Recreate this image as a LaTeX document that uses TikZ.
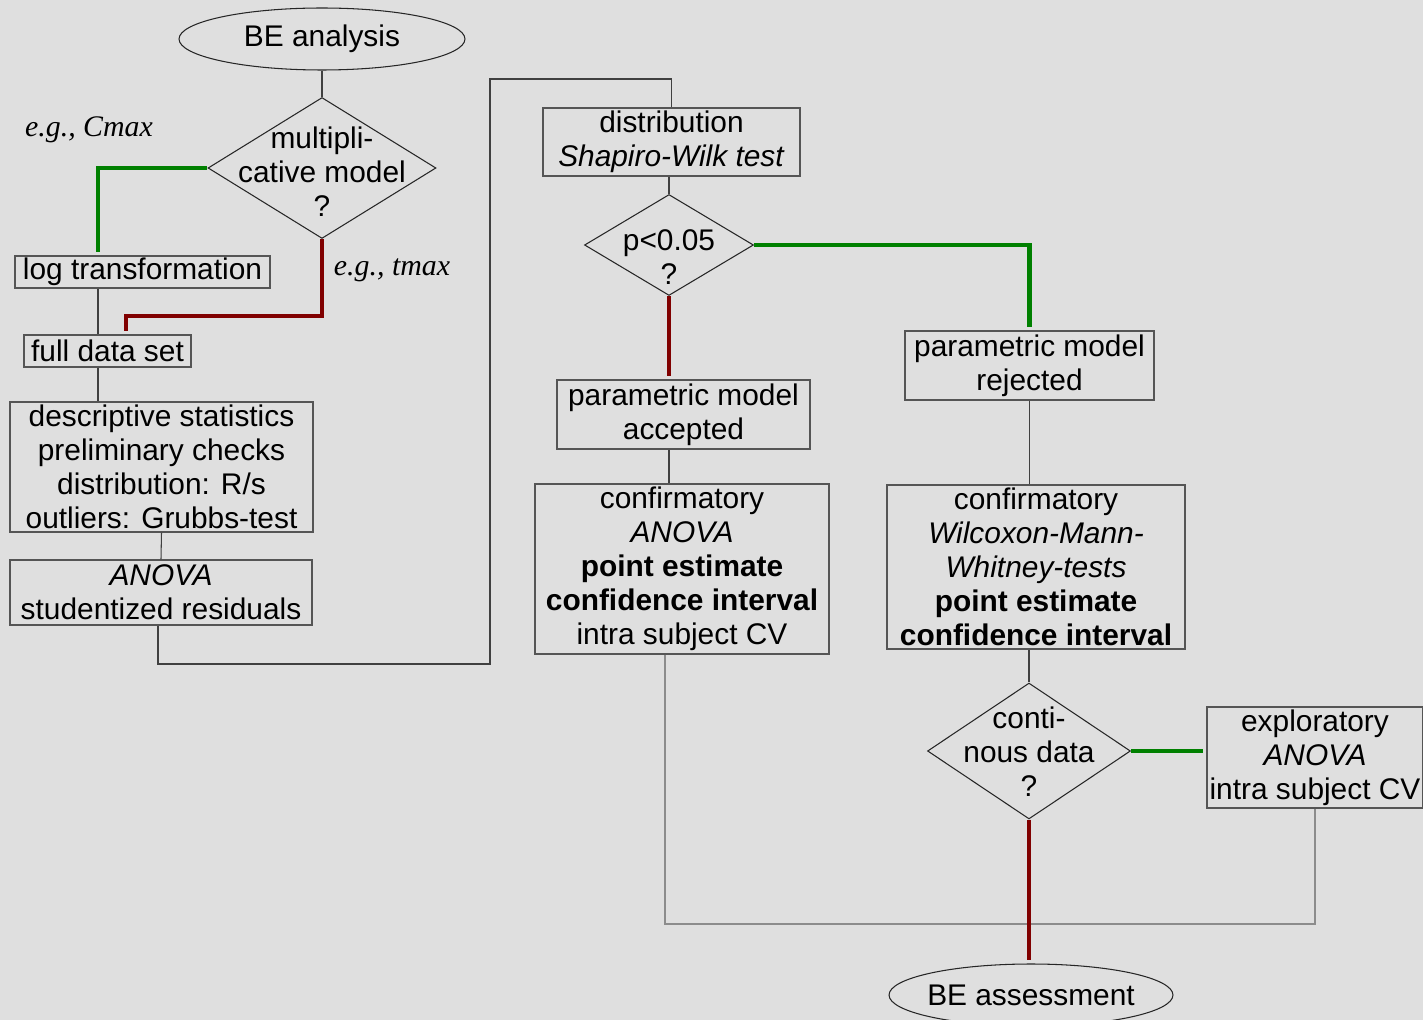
\documentclass[tikz,border=0pt]{standalone}
\usepackage{fontspec}
\setmainfont{Liberation Sans}
\newfontfamily\notefont{Liberation Serif}
\usetikzlibrary{shapes.geometric}
\definecolor{paper}{RGB}{223,223,223}
\definecolor{yesgreen}{RGB}{0,128,0}
\definecolor{nored}{RGB}{128,0,0}
\definecolor{frame}{RGB}{85,85,85}
\newcommand\boxfont{\fontsize{17}{19.4}\selectfont}
% text inside a diamond: no size of its own, so the diamond keeps its given size
\newcommand\dlines[2]{\smash{\makebox[0pt]{\raisebox{#1}{\begin{tabular}{@{}c@{}}#2\end{tabular}}}}}
\tikzset{
  box/.style={draw=frame, line width=0.8pt, inner sep=0pt, align=center, font=\boxfont},
  decision/.style={diamond, draw=black!85, line width=0.6pt, inner sep=0pt, font=\boxfont},
  terminal/.style={ellipse, draw=black!85, line width=0.6pt, inner sep=0pt, font=\boxfont},
  conn/.style={draw=black!75, line width=0.6pt},
  yes/.style={draw=yesgreen, line width=2.6pt, shorten >=2pt},
  no/.style={draw=nored, line width=2.6pt, shorten >=2pt},
  note/.style={font=\notefont\boxfont\itshape, inner sep=0pt}
}
\begin{document}
\begin{tikzpicture}[x=0.02cm,y=-0.02cm]
  \clip (0,0) rectangle (1423,1020);
  \fill[paper] (0,0) rectangle (1423,1020);

  % left column
  \node[terminal, minimum width=5.72cm, minimum height=1.24cm] (start) at (322,39) {\makebox[0pt]{BE analysis}};
  \node[decision, minimum width=4.56cm, minimum height=2.82cm] (mult) at (322,168)
    {\dlines{-8.5pt}{multipli-\\cative model\\?}};
  \node[note] (cmax) at (89,130) {e.g., Cmax};
  \node[note] (tmax) at (392,270) {e.g., tmax};
  \node[box, minimum width=5.1cm, minimum height=0.64cm] (log) at (142.5,272) {log transformation};
  \node[box, minimum width=3.34cm, minimum height=0.64cm] (full) at (107.5,351) {full data set};
  \node[box, minimum width=6.06cm, minimum height=2.6cm] (desc) at (161.5,467)
    {descriptive statistics\\preliminary checks\\distribution: R/s\\outliers: Grubbs-test};
  \node[box, minimum width=6.04cm, minimum height=1.3cm] (resid) at (161,592.5)
    {\textit{ANOVA}\\studentized residuals};

  % middle column
  \node[box, minimum width=5.14cm, minimum height=1.36cm] (dist) at (671.5,142)
    {distribution\\\textit{Shapiro-Wilk test}};
  \node[decision, minimum width=3.38cm, minimum height=2.02cm] (pdec) at (669,245)
    {\dlines{-13pt}{p<0.05\\?}};
  \node[box, minimum width=5.06cm, minimum height=1.38cm] (accepted) at (683.5,414.5)
    {parametric model\\accepted};
  \node[box, minimum width=5.88cm, minimum height=3.4cm] (confpar) at (682,569)
    {confirmatory\\\textit{ANOVA}\\\textbf{point estimate}\\\textbf{confidence interval}\\intra subject CV};

  % right column
  \node[box, minimum width=4.98cm, minimum height=1.38cm] (rejected) at (1029.5,365.5)
    {parametric model\\rejected};
  \node[box, minimum width=5.96cm, minimum height=3.28cm] (confnp) at (1036,567)
    {confirmatory\\\textit{Wilcoxon-Mann-}\\\textit{Whitney-tests}\\\textbf{point estimate}\\\textbf{confidence interval}};
  \node[decision, minimum width=4.06cm, minimum height=2.72cm] (cdec) at (1029,751)
    {\dlines{-7pt}{conti-\\nous data\\?}};
  \node[box, minimum width=4.32cm, minimum height=2.02cm] (explo) at (1315,757.5)
    {exploratory\\\textit{ANOVA}\\intra subject CV};
  \node[terminal, minimum width=5.68cm, minimum height=1.24cm] (finish) at (1031,995) {\makebox[0pt]{BE assessment}};

  % turning points
  \coordinate (leftrail) at (98,0);
  \coordinate (redturn) at (126,316);
  \coordinate (jogdown) at (490,664);
  \coordinate (jogup) at (490,79);
  \coordinate (mergerow) at (1000,924);

  % connectors
  \draw[conn] (start.south) -- (mult.north);
  \draw[yes] (mult.west) -| (log.north -| leftrail);
  \draw[no] (mult.south) |- (redturn) -- (full.north -| redturn);
  \draw[conn] (log.south -| leftrail) -- (full.north -| leftrail);
  \draw[conn] (full.south -| leftrail) -- (desc.north -| leftrail);
  \draw[conn] (desc.south) -- (resid.north);
  \draw[conn] ([xshift=-0.06cm]resid.south) |- (jogdown) -- (jogup) -| (dist.north);
  \draw[conn] (dist.south -| pdec) -- (pdec.north);
  \draw[yes] (pdec.east) -| (rejected.north);
  \draw[no] (pdec.south) -- (accepted.north -| pdec);
  \draw[conn] (accepted.south -| pdec) -- (confpar.north -| pdec);
  \draw[conn] (rejected.south) -- (confnp.north -| rejected.south);
  \draw[conn] (confnp.south -| cdec) -- (cdec.north);
  \draw[yes] (cdec.east) -- (explo.west |- cdec.east);
  \draw[conn, draw=black!45] ([xshift=-0.08cm]confpar.south -| pdec) |- (mergerow) -| (explo.south);
  \draw[no] (cdec.south) -- (finish.north -| cdec);
\end{tikzpicture}
\end{document}
